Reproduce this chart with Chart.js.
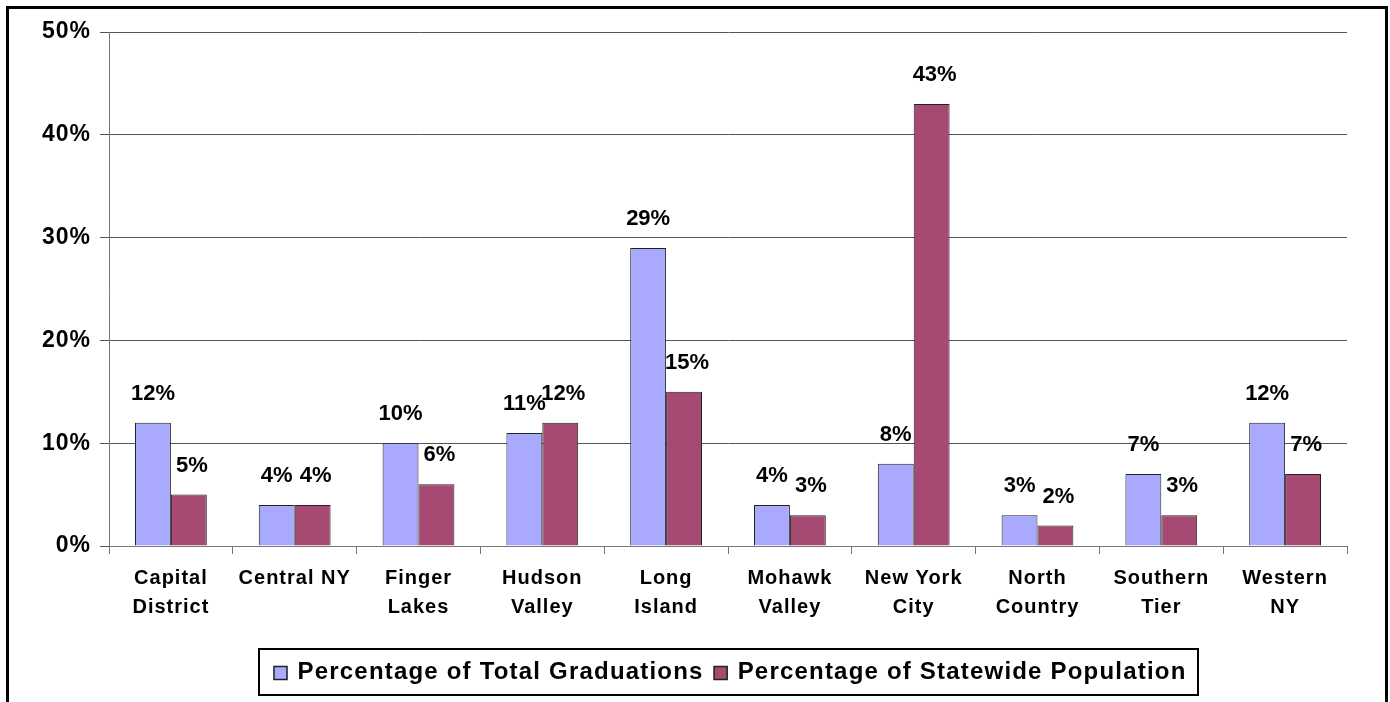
<!DOCTYPE html>
<html>
<head>
<meta charset="utf-8">
<script src="https://cdn.jsdelivr.net/npm/chart.js@4.4.1/dist/chart.umd.min.js"></script>
<style>
body{margin:0;background:#fff;}
#wrap{width:1390px;height:702px;}
</style>
</head>
<body>
<div id="wrap"><canvas id="myChart" width="1390" height="702"></canvas></div>
<script>
var regions=[['Capital','District'],['Central NY'],['Finger','Lakes'],['Hudson','Valley'],['Long','Island'],['Mohawk','Valley'],['New York','City'],['North','Country'],['Southern','Tier'],['Western','NY']];
var graduations=[12,4,10,11,29,4,8,3,7,12];
var population=[5,4,6,12,15,3,43,2,3,7];
var yTicks=[0,10,20,30,40,50];

var family="Arial, 'Liberation Sans', sans-serif";

// border round the whole chart, and wider letters for the axis text
var frame={
  id:'frame',
  beforeDraw:function(chart){
    var ctx=chart.ctx;
    ctx.save();
    ctx.fillStyle='#fff';
    ctx.fillRect(0,0,chart.width,chart.height);
    ctx.strokeStyle='#000';
    ctx.lineWidth=3;
    ctx.strokeRect(7.5,7.5,1379,740);
    ctx.restore();
    ctx.letterSpacing='1px';
  },
  beforeDatasetsDraw:function(chart){
    chart.ctx.letterSpacing='0px';
  }
};

// value labels above bars
var valueLabels={
  id:'valueLabels',
  afterDatasetsDraw:function(chart){
    var ctx=chart.ctx;
    ctx.save();
    ctx.letterSpacing='0px';
    ctx.font='bold 22px '+family;
    ctx.fillStyle='#000';
    ctx.textAlign='center';
    ctx.textBaseline='middle';
    chart.data.datasets.forEach(function(ds,i){
      chart.getDatasetMeta(i).data.forEach(function(bar,j){
        ctx.fillText(ds.data[j]+'%',bar.x+(i==1?3:0),bar.y-29);
      });
    });
    ctx.restore();
  }
};

// legend drawn in a box like the original
var boxLegend={
  id:'boxLegend',
  afterDraw:function(chart){
    var ctx=chart.ctx;
    ctx.save();
    ctx.font='bold 24px '+family;
    ctx.letterSpacing='1.2px';
    var items=chart.data.datasets;
    var sq=14,gap=10,between=10;
    var total=0;
    items.forEach(function(ds,i){
      total+=sq+gap+ctx.measureText(ds.label).width;
      if(i<items.length-1)total+=between;
    });
    var cx=730,top=649,h=46;
    var left=cx-total/2;
    ctx.strokeStyle='#000';
    ctx.lineWidth=2;
    ctx.strokeRect(Math.round(left-14),top,Math.round(total+26),h);
    var x=left;
    var my=top+h/2;
    items.forEach(function(ds){
      ctx.fillStyle=ds.backgroundColor;
      ctx.fillRect(x,my-sq/2+1,sq,sq);
      ctx.lineWidth=1.5;
      ctx.strokeStyle='#222';
      ctx.strokeRect(x+0.5,my-sq/2+1.5,sq-1,sq-1);
      x+=sq+gap;
      ctx.fillStyle='#000';
      ctx.textBaseline='middle';
      ctx.textAlign='left';
      ctx.fillText(ds.label,x,my);
      x+=ctx.measureText(ds.label).width+between;
    });
    ctx.restore();
  }
};

const data={
  labels:regions,
  datasets:[{
    label:'Percentage of Total Graduations',
    data:graduations,
    backgroundColor:'#A9AAFE',
    borderColor:'#222',
    borderWidth:1
  },{
    label:'Percentage of Statewide Population',
    data:population,
    backgroundColor:'#A64A74',
    borderColor:'#222',
    borderWidth:1
  }]
};

const config={
  type:'bar',
  data:data,
  options:{
    responsive:false,
    animation:false,
    events:[],
    layout:{autoPadding:false,padding:{left:0,top:32,right:43,bottom:0}},
    datasets:{bar:{categoryPercentage:0.58,barPercentage:1}},
    plugins:{legend:{display:false},tooltip:{enabled:false}},
    scales:{
      x:{
        afterFit:function(s){s.height=156;},
        grid:{drawOnChartArea:false,drawTicks:true,tickLength:8,color:'#777'},
        border:{color:'#777',width:1},
        ticks:{
          color:'#000',
          padding:10,
          maxRotation:0,
          autoSkip:false,
          font:{family:family,size:20,weight:'bold',lineHeight:1.45}
        }
      },
      y:{
        min:0,max:50,
        afterFit:function(s){s.width=109;},
        afterBuildTicks:function(s){s.ticks=yTicks.map(function(v){return {value:v};});},
        grid:{color:'#555',drawTicks:true,tickLength:9},
        border:{color:'#777',width:1},
        ticks:{
          color:'#000',
          padding:9,
          callback:function(v){return v+'%';},
          font:{family:family,size:23,weight:'bold'}
        }
      }
    }
  },
  plugins:[frame,valueLabels,boxLegend]
};
const myChart=new Chart(document.getElementById('myChart'),config);
</script>
</body>
</html>
